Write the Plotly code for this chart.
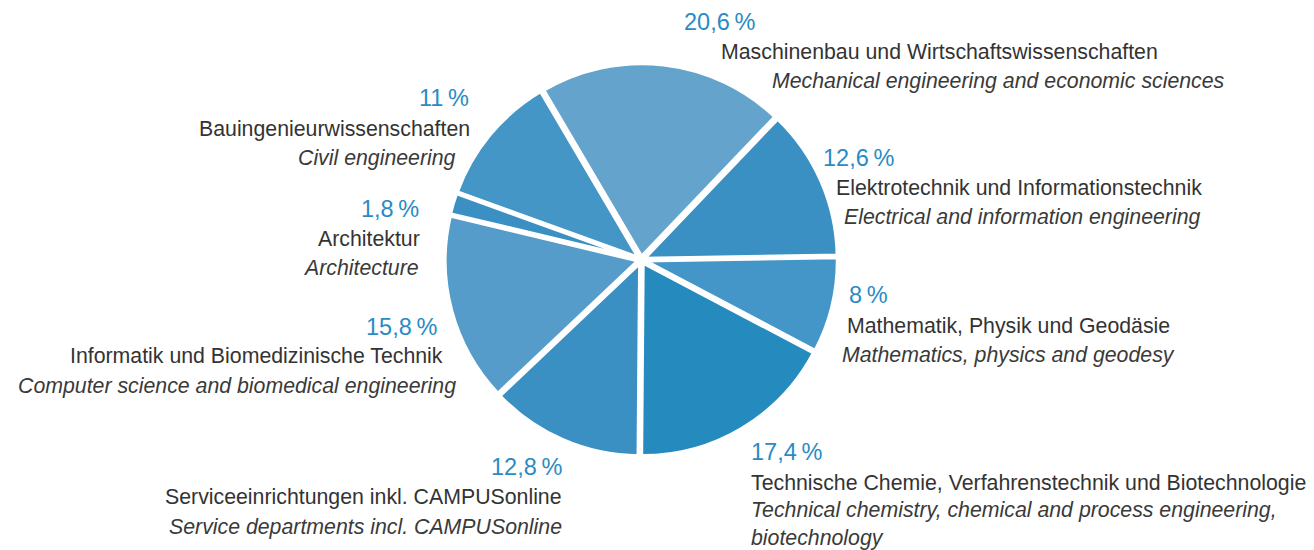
import plotly.graph_objects as go

labels_de = ["Maschinenbau und Wirtschaftswissenschaften",
             "Elektrotechnik und Informationstechnik",
             "Mathematik, Physik und Geodäsie",
             "Technische Chemie, Verfahrenstechnik und Biotechnologie",
             "Serviceeinrichtungen inkl. CAMPUSonline",
             "Informatik und Biomedizinische Technik",
             "Architektur",
             "Bauingenieurwissenschaften"]
labels_en = ["Mechanical engineering and economic sciences",
             "Electrical and information engineering",
             "Mathematics, physics and geodesy",
             "Technical chemistry, chemical and process engineering,<br>biotechnology",
             "Service departments incl. CAMPUSonline",
             "Computer science and biomedical engineering",
             "Architecture",
             "Civil engineering"]
values = [20.6, 12.6, 8.0, 17.4, 12.8, 15.8, 1.8, 11.0]
pct_labels = ["20,6\u2009%", "12,6\u2009%", "8\u2009%", "17,4\u2009%",
              "12,8\u2009%", "15,8\u2009%", "1,8\u2009%", "11\u2009%"]
colors = ["#64a3cb", "#3a8fc3", "#4396c7", "#258bbf",
          "#3a8fc3", "#559cca", "#3a8fc3", "#4496c6"]

# label anchor positions (pixels from left/top) : pct, german, english ; anchor side
W, H = 1314, 550
label_pos = [
    ((685, 22), (722, 52), (773, 81), "left"),
    ((824, 158), (837, 188), (845, 217), "left"),
    ((850, 295), (848, 326), (843, 355), "left"),
    ((752, 452), (752, 483), (752, 524), "left"),
    ((561, 467), (561, 497), (561, 527), "right"),
    ((436, 327), (442, 356), (455, 386), "right"),
    ((418, 209), (419, 239), (418, 268), "right"),
    ((468, 98), (469, 129), (455, 158), "right"),
]

fig = go.Figure()
fig.add_trace(go.Pie(
    values=values,
    labels=labels_de,
    sort=False,
    direction="clockwise",
    rotation=-30.5,
    marker=dict(colors=colors, line=dict(color="white", width=4)),
    pull=[0.015] * len(values),
    textinfo="none",
    hoverinfo="label+percent",
    showlegend=False,
    domain=dict(x=[0.2, 0.776], y=[0.17, 0.885]),
))

FONT = "Liberation Sans"
anns = []
for i, (p, g, e, side) in enumerate(label_pos):
    for (xy, txt, col, italic, size) in [(p, pct_labels[i], "#2a8bc4", False, 23.5),
                                         (g, labels_de[i], "#333333", False, 21.3),
                                         (e, labels_en[i], "#3a3a3a", True, 21.3)]:
        t = f"<i>{txt}</i>" if italic else txt
        anns.append(dict(
            x=xy[0] / W, y=1 - xy[1] / H, xref="paper", yref="paper",
            text=t, showarrow=False, xanchor=side, yanchor="middle",
            align=side, xshift=-3 if side == "left" else 3,
            font=dict(family=FONT, size=size, color=col),
        ))

fig.update_layout(
    width=W, height=H,
    margin=dict(l=0, r=0, t=0, b=0),
    paper_bgcolor="white", plot_bgcolor="white",
    annotations=anns,
)
fig.write_html("out.html", config={"displayModeBar": False},
               post_script="document.body.style.margin='0';")
